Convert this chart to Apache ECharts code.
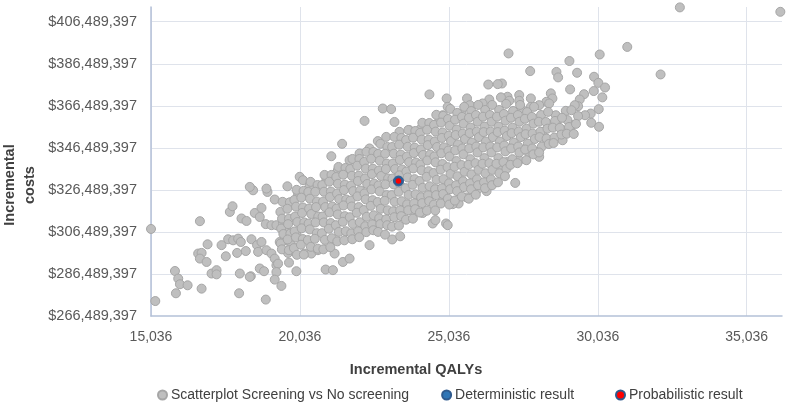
<!DOCTYPE html>
<html>
<head>
<meta charset="utf-8">
<script src="https://cdn.jsdelivr.net/npm/echarts@6/dist/echarts.min.js"></script>
<style>
html,body{margin:0;padding:0;background:#fff;}
#chart{width:789px;height:403px;}
</style>
</head>
<body>
<div id="chart"></div>
<script>
// incremental QALYs, incremental costs in $ millions
const simPoints = [
[15036,307.9],[15180,273.6],[15840,287.9],[15950,284.3],[16008,281.6],[16265,281.1],[15873,277.3],[16735,279.5],[16678,311.6],[16620,296.2],
[16735,296.5],[16678,293.8],[16902,292.2],[16935,300.6],[17069,286.7],[17237,288.3],[17237,286.3],[17404,300.2],[17548,294.9],[17683,316.0],
[17773,318.7],[17626,303.0],[17793,302.5],[17961,303.3],[18051,301.7],[17927,296.5],[18219,297.4],[18018,286.7],[17994,277.3],[18386,285.4],
[18074,312.9],[18242,311.7],[18409,303.0],[18597,300.2],[18745,301.7],[18631,297.0],[18520,315.5],[18745,317.9],[18688,313.6],[18946,325.5],
[19190,321.9],[18889,310.2],[19080,309.7],[19247,309.7],[18912,297.8],[19080,296.2],[19190,293.8],[19247,290.6],[19301,291.4],[18688,289.1],
[18831,287.8],[19247,287.4],[19190,283.8],[19414,280.8],[18889,274.3],[18778,266.4],[19358,301.7],[19582,304.1],[19749,300.2],[19636,296.5],
[19803,297.8],[19669,291.9],[19917,287.8],[19615,328.2],[19582,320.0],[19803,320.8],[19971,324.8],[20028,332.7],[20138,331.1],
[18353,285.1],[20899,288.6],[21143,288.3],[21478,292.2],[21703,293.8],[21200,296.2],[22373,300.2],[23133,302.9],[23401,304.4],[24493,310.5],
[24584,312.1],[24942,310.5],[24996,309.7],[24158,315.5],[23880,316.0],[25364,320.0],[25632,322.9],[26000,326.7],[26302,325.9],[26369,329.8],
[18463,326.3],[18353,327.9],[18912,327.1],[19465,310.5],[19582,308.1],[19917,305.4],[19525,302.5],[20195,296.2],[20419,296.2],[20640,297.8],
[26761,335.0],[27264,329.8],[25612,328.7],[25164,319.7],[24996,321.9],[24829,321.6],[26728,335.9],[27006,339.8],[27398,340.6],[27733,343.8],
[28068,342.2],[28854,350.1],[28834,354.9],[29169,357.3],[28291,351.0],[28179,354.1],[28459,357.3],[28681,359.7],[28627,362.0],[28962,364.1],
[32791,413.3],[36164,411.2],[27039,391.4],[31025,394.5],[32144,381.4],[30100,390.9],[29083,387.8],[27766,383.0],[28647,382.6],[28704,380.0],
[29341,382.2],[29910,380.3],[30054,377.4],[30279,375.2],[29900,373.5],[30188,370.5],[29106,374.3],[29575,372.0],[29430,369.5],[29374,366.3],
[30067,364.9],[29799,362.8],[29608,362.0],[29374,361.6],[29816,358.4],[30078,356.5],[26817,377.1],[29017,359.7],[26359,376.6],[29263,366.8],
[29150,364.4],[28459,372.4],[28513,370.0],[28312,368.4],[28068,366.8],[28403,367.6],[27789,370.0],[27789,366.0],[27398,371.6],[27006,370.8],
[26784,370.5],[26393,369.5],[25645,370.0],[24962,370.0],[24383,371.9],[26677,376.8],[27398,368.9],[27063,368.9],[27455,365.2],[22817,365.2],
[23098,364.9],[22205,359.3],[23210,358.8],[21452,348.4],[21090,342.5],[20363,328.7],[20922,331.9],[21311,335.9],[21703,340.6],[22038,343.8],
[22373,346.2],[22651,349.7],[22932,351.7],[23378,354.1],[23713,354.9],[24102,355.7],[24718,359.7],[24829,362.0],[24996,366.0],[25740,366.8],
[25461,362.8],[26168,367.6],
// dense middle of the cloud
[19455,320.8],[19380,316.0],[19435,312.8],[19405,308.1],[19480,305.5],[19390,301.0],[19430,298.2],
[19699,320.6],[19614,317.5],[19669,312.8],[19639,310.2],[19714,305.7],[19624,302.9],[19664,297.8],
[19924,326.5],[19849,321.7],[19904,318.5],[19874,313.8],[19949,311.2],[19859,306.7],[19899,303.9],[19834,298.8],[19934,295.6],
[20158,326.0],[20083,322.8],[20138,318.1],[20108,315.5],[20183,311.0],[20093,308.2],[20133,303.1],[20068,300.4],[20168,295.7],
[20393,330.3],[20318,325.5],[20373,322.3],[20343,317.6],[20418,315.0],[20328,310.5],[20368,307.7],[20303,302.6],[20403,299.4],
[20627,328.8],[20552,325.6],[20607,320.9],[20577,318.3],[20652,313.8],[20562,311.0],[20602,305.9],[20537,303.2],[20637,298.5],
[20862,333.6],[20787,328.8],[20842,325.6],[20812,320.9],[20887,318.3],[20797,313.8],[20837,311.0],[20772,305.9],[20872,302.7],[20822,298.2],
[21096,333.6],[21021,330.4],[21076,325.7],[21046,323.1],[21121,318.6],[21031,315.8],[21071,310.7],[21006,308.0],[21106,303.5],[21056,299.2],
[21331,337.4],[21256,332.6],[21311,329.4],[21281,324.7],[21356,322.1],[21266,317.6],[21306,314.8],[21241,309.7],[21341,306.5],[21291,302.0],
[21565,336.9],[21490,333.7],[21545,329.0],[21515,326.4],[21590,321.9],[21500,319.1],[21540,314.0],[21475,311.3],[21575,306.8],[21525,302.5],
[21800,341.2],[21725,336.4],[21780,333.2],[21750,328.5],[21825,325.9],[21735,321.4],[21775,318.6],[21710,313.5],[21810,310.3],[21760,305.8],[21795,303.0],
[22034,341.2],[21959,338.0],[22014,333.3],[21984,330.7],[22059,326.2],[21969,323.4],[22009,318.3],[21944,315.6],[22044,311.1],[21994,306.8],[22029,304.0],
[22269,344.6],[22194,339.8],[22249,336.6],[22219,331.9],[22294,329.3],[22204,324.8],[22244,322.0],[22179,316.9],[22279,313.7],[22229,309.2],[22264,306.4],
[22503,344.5],[22428,341.3],[22483,336.6],[22453,334.0],[22528,329.5],[22438,326.7],[22478,321.6],[22413,318.9],[22513,314.4],[22463,310.1],[22498,307.3],
[22738,348.4],[22663,343.6],[22718,340.4],[22688,335.7],[22763,333.1],[22673,328.6],[22713,325.8],[22648,320.7],[22748,317.5],[22698,313.0],[22733,310.2],[22658,306.5],
[22972,346.9],[22897,343.7],[22952,339.0],[22922,336.4],[22997,331.9],[22907,329.1],[22947,324.0],[22882,321.3],[22982,316.8],[22932,312.5],[22967,309.7],[22892,305.2],
[23207,351.7],[23132,346.9],[23187,343.7],[23157,339.0],[23232,336.4],[23142,331.9],[23182,329.1],[23117,324.0],[23217,320.8],[23167,316.3],[23202,313.5],[23127,309.0],
[23441,351.2],[23366,348.0],[23421,343.3],[23391,340.7],[23466,336.2],[23376,333.4],[23416,328.3],[23351,325.6],[23451,321.1],[23401,316.8],[23436,314.0],[23361,309.5],
[23676,355.0],[23601,350.2],[23656,347.0],[23626,342.3],[23701,339.7],[23611,335.2],[23651,332.4],[23586,327.3],[23686,324.1],[23636,319.6],[23671,316.8],[23596,312.3],
[23910,354.5],[23835,351.3],[23890,346.6],[23860,344.0],[23935,339.5],[23845,336.7],[23885,331.6],[23820,328.9],[23920,324.4],[23870,320.1],[23905,317.3],[23830,312.8],
[24145,358.4],[24070,353.6],[24125,350.4],[24095,345.7],[24170,343.1],[24080,338.6],[24120,335.8],[24055,330.7],[24155,327.5],[24105,323.0],[24140,320.2],[24065,315.7],
[24379,358.3],[24304,355.1],[24359,350.4],[24329,347.8],[24404,343.3],[24314,340.5],[24354,335.4],[24289,332.7],[24389,328.2],[24339,323.9],[24374,321.1],[24299,316.6],
[24614,362.2],[24539,357.4],[24594,354.2],[24564,349.5],[24639,346.9],[24549,342.4],[24589,339.6],[24524,334.5],[24624,331.3],[24574,326.8],[24609,324.0],[24534,319.5],[24579,316.7],
[24848,361.7],[24773,358.5],[24828,353.8],[24798,351.2],[24873,346.7],[24783,343.9],[24823,338.8],[24758,336.1],[24858,331.6],[24808,327.3],[24843,324.5],[24768,320.0],
[25083,365.0],[25008,360.2],[25063,357.0],[25033,352.3],[25108,349.7],[25018,345.2],[25058,342.4],[24993,337.3],[25093,334.1],[25043,329.6],[25078,326.8],[25003,322.3],[25048,319.5],
[25317,363.1],[25242,359.9],[25297,355.2],[25267,352.6],[25342,348.1],[25252,345.3],[25292,340.2],[25227,337.5],[25327,333.0],[25277,328.7],[25312,325.9],[25237,321.4],
[25552,366.0],[25477,361.2],[25532,358.0],[25502,353.3],[25577,350.7],[25487,346.2],[25527,343.4],[25462,338.3],[25562,335.1],[25512,330.6],[25547,327.8],[25472,323.3],
[25786,364.0],[25711,360.8],[25766,356.1],[25736,353.5],[25811,349.0],[25721,346.2],[25761,341.1],[25696,338.4],[25796,333.9],[25746,329.6],[25781,326.8],[25706,322.3],
[26021,366.9],[25946,362.1],[26001,358.9],[25971,354.2],[26046,351.6],[25956,347.1],[25996,344.3],[25931,339.2],[26031,336.0],[25981,331.5],[26016,328.7],[25941,324.2],
[26255,364.5],[26180,361.3],[26235,356.6],[26205,354.0],[26280,349.5],[26190,346.7],[26230,341.6],[26165,338.9],[26265,334.4],[26215,330.1],[26250,327.3],
[26490,366.9],[26415,362.1],[26470,358.9],[26440,354.2],[26515,351.6],[26425,347.1],[26465,344.3],[26400,339.2],[26500,336.0],[26450,331.5],[26485,328.7],
[26724,364.5],[26649,361.3],[26704,356.6],[26674,354.0],[26749,349.5],[26659,346.7],[26699,341.6],[26634,338.9],[26734,334.4],[26684,330.1],
[26959,367.4],[26884,362.6],[26939,359.4],[26909,354.7],[26984,352.1],[26894,347.6],[26934,344.8],[26869,339.7],[26969,336.5],[26919,333.0],
[27193,364.0],[27118,360.8],[27173,356.1],[27143,353.5],[27218,349.0],[27128,346.2],[27168,341.1],[27103,338.4],
[27428,366.9],[27353,362.1],[27408,358.9],[27378,354.2],[27453,351.6],[27363,347.1],[27403,344.3],[27338,339.2],
[27662,363.5],[27587,360.3],[27642,355.6],[27612,353.0],[27687,348.5],[27597,345.7],[27637,340.6],
[27897,366.0],[27822,361.2],[27877,358.0],[27847,353.3],[27922,350.7],[27832,346.2],[27872,343.4],
[28131,362.1],[28056,358.9],[28111,354.2],[28081,351.6],[28156,347.1],[28066,344.3],
[28366,363.6],[28291,358.8],[28346,355.6],[28316,350.9],[28391,348.3],
[28600,359.3],[28525,356.1],[28580,351.4],[28550,348.8],
[28835,360.8],[28760,356.0],[28815,352.8],
[29069,356.4],[28994,353.2],
[29304,357.9],[29229,353.1]
];
const deterministicPoint = [23344, 330.7];
const probabilisticPoint = [23344, 330.7];

const seriesNames = ['Scatterplot Screening vs No screening', 'Deterministic result', 'Probabilistic result'];
const xMin = 15036, xMax = 36220, xStep = 5000;
const yMin = 266489397, yMax = 413489397, yStep = 20000000;

const font = '"Liberation Sans", Arial, sans-serif';
const toDollars = p => [p[0], Math.round(p[1] * 1e6)];

const legendBase = {
    top: 388,
    padding: 0,
    icon: 'circle',
    itemWidth: 9,
    itemHeight: 9,
    itemGap: 32,
    textStyle: {fontFamily: font, fontSize: 14, color: '#404040', padding: [0, 0, 0, -1]}
};

let chart = echarts.init(document.getElementById('chart'));
chart.setOption({
    animation: false,
    backgroundColor: '#fff',
    grid: {left: 151, right: 7, top: 7, bottom: 87},
    legend: [
        Object.assign({left: 157, data: seriesNames.slice(0, 2)}, legendBase),
        Object.assign({left: 615, data: seriesNames.slice(2)}, legendBase)
    ],
    xAxis: {
        type: 'value',
        min: xMin, max: xMax, interval: xStep,
        axisLine: {show: true, lineStyle: {color: '#b4c1d8', width: 1.5}},
        axisTick: {show: false},
        splitLine: {show: true, showMaxLine: false, lineStyle: {color: '#dfe3eb', width: 1}},
        axisLabel: {
            showMaxLabel: false,
            margin: 14,
            fontFamily: font, fontSize: 14, color: '#595959',
            formatter: v => v.toLocaleString('en-US')
        }
    },
    yAxis: {
        type: 'value',
        min: yMin, max: yMax, interval: yStep,
        axisLine: {show: true, lineStyle: {color: '#b4c1d8', width: 1.5}},
        axisTick: {show: false},
        splitLine: {show: true, showMaxLine: false, showMinLine: false, lineStyle: {color: '#dfe3eb', width: 1}},
        axisLabel: {
            showMaxLabel: false,
            margin: 14,
            fontFamily: font, fontSize: 14.5, color: '#595959',
            formatter: v => '$' + v.toLocaleString('en-US')
        }
    },
    graphic: [
        {
            type: 'text', x: 416, y: 370,
            style: {text: 'Incremental QALYs', font: 'bold 14.5px ' + font, fill: '#404040', textAlign: 'center', textVerticalAlign: 'middle'}
        },
        {
            type: 'text', x: 20, y: 185, rotation: Math.PI / 2,
            style: {text: 'Incremental\ncosts', font: 'bold 14.5px ' + font, fill: '#404040', textAlign: 'center', textVerticalAlign: 'middle', lineHeight: 20}
        }
    ],
    series: [
        {
            name: seriesNames[0],
            type: 'scatter',
            symbolSize: 9,
            itemStyle: {color: '#bfbfbf', borderColor: '#a6a6a6', borderWidth: 1, opacity: 1},
            data: simPoints.map(toDollars),
            z: 2
        },
        {
            name: seriesNames[1],
            type: 'scatter',
            symbolSize: 10,
            itemStyle: {color: '#2e75b6', borderColor: '#2e5a8e', borderWidth: 1, opacity: 1},
            data: [toDollars(deterministicPoint)],
            z: 3
        },
        {
            name: seriesNames[2],
            type: 'scatter',
            symbolSize: 7,
            itemStyle: {color: '#ff0000', borderColor: '#2e5a8e', borderWidth: 1.5, opacity: 1},
            data: [toDollars(probabilisticPoint)],
            z: 4
        }
    ]
});
</script>
</body>
</html>
